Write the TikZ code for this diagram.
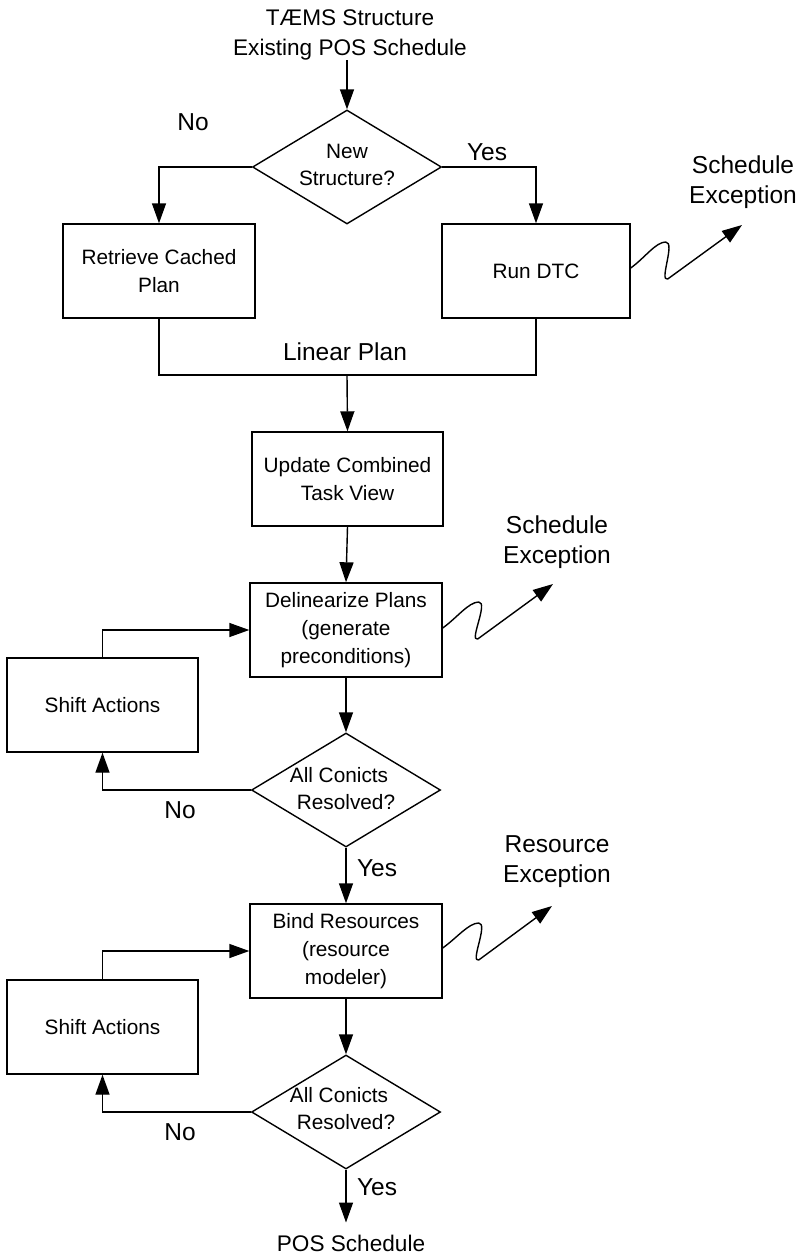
\documentclass[tikz,border=0pt]{standalone}
\usepackage{fontspec}
\setmainfont{Liberation Sans}
\usetikzlibrary{arrows.meta,shapes.geometric}
\begin{document}
\begin{tikzpicture}[x=1pt,y=-1pt,
  every node/.style={inner sep=0pt},
  box/.style={draw, line width=1.4pt, minimum width=192pt, minimum height=94pt, align=center, font=\fontsize{20.8}{28}\selectfont},
  dia/.style={draw, diamond, line width=1.4pt, minimum width=189pt, minimum height=114pt},
  dtext/.style={align=center, font=\fontsize{20.8}{27}\selectfont},
  lab/.style={font=\fontsize{24.5}{30}\selectfont, align=center},
  io/.style={font=\fontsize{22.6}{30}\selectfont, align=center},
  ln/.style={line width=1.4pt},
  arr/.style={line width=1.4pt, -{Triangle[length=20pt,width=14pt]}},
  squig/.style={arr, line join=round},
]
\useasboundingbox (0,0) rectangle (804,1256);

% top
\node[io] (src) at (350,35) {TÆMS Structure\\Existing POS Schedule};
\node[dia] (d1) at (347,167) {};
\node[dtext] (d1t) at (347,165) {New\\Structure?};
\draw[arr] (src.south -| d1.north) -- (d1.north);

\node[box] (rc) at (159,271) {Retrieve Cached\\Plan};
\node[box, minimum width=188pt] (rd) at (536,271) {Run DTC};
\draw[arr] (d1.west) -| (rc.north);
\draw[arr] (d1.east) -| (rd.north);
\node[lab] (no1) at (193,122) {No};
\node[lab] (yes1) at (487,152) {Yes};

\node[lab] (ex1l) at (743,182) {Schedule\\Exception};
\coordinate (ex1) at (742,225);
\draw[squig] ([yshift=3pt]rd.east) .. controls +(14,-10) and +(-10,0) .. ++(35,-26)
   .. controls +(10,0) and +(-9,3) .. ++(2,37) -- (ex1);

% linear plan
\coordinate (lp) at (347,375);
\draw[ln] (rc.south) |- (lp) -| (rd.south);
\node[lab] (lpl) at (345,352) {Linear Plan};

\node[box, minimum width=191pt] (uc) at (347.5,479) {Update Combined\\Task View};
\draw[arr] (lp) -- (uc.north);

\node[box] (dl) at (346,630) {Delinearize Plans\\(generate\\preconditions)};
\draw[arr] (uc.south) -- (dl.north);

\node[lab] (ex2l) at (557,542) {Schedule\\Exception};
\coordinate (ex2) at (553,584);
\draw[squig] ([yshift=2pt]dl.east) .. controls +(14,-10) and +(-10,0) .. ++(36,-26)
   .. controls +(10,0) and +(-9,3) .. ++(-1,37) -- (ex2);

\node[dia] (d2) at (346,790) {};
\node[dtext] (d2t) at (346,788.5) {All Conicts\hspace*{14pt}\\Resolved?};
\draw[arr] (dl.south) -- (d2.north);

\node[box, minimum width=191pt] (sa1) at (102.5,705) {Shift Actions};
\draw[arr] (sa1.north) |- (dl.west);
\draw[arr] (d2.west) -| (sa1.south);
\node[lab] (no2) at (180,810) {No};
\node[lab] (yes2) at (377,868) {Yes};

% bind resources
\node[box] (br) at (346,951) {Bind Resources\\(resource\\modeler)};
\draw[arr] (d2.south) -- (br.north);

\node[lab] (ex3l) at (557,862) {Resource\\Exception};
\coordinate (ex3) at (552,906);
\draw[squig] ([yshift=3pt]br.east) .. controls +(14,-10) and +(-10,0) .. ++(36,-25)
   .. controls +(10,0) and +(-9,3) .. ++(0,37) -- (ex3);

\node[box, minimum width=191pt] (sa2) at (102.5,1027) {Shift Actions};
\draw[arr] (sa2.north) |- (br.west);

\node[dia] (d3) at (346,1112) {};
\node[dtext] (d3t) at (346,1108.5) {All Conicts\hspace*{14pt}\\Resolved?};
\draw[arr] (br.south) -- (d3.north);
\draw[arr] (d3.west) -| (sa2.south);
\node[lab] (no3) at (180,1132) {No};
\node[lab] (yes3) at (377,1187) {Yes};

\node[io] (out) at (351,1243) {POS Schedule};
\draw[arr] (d3.south) -- ([yshift=12pt]out.north -| d3.south);
\end{tikzpicture}
\end{document}
